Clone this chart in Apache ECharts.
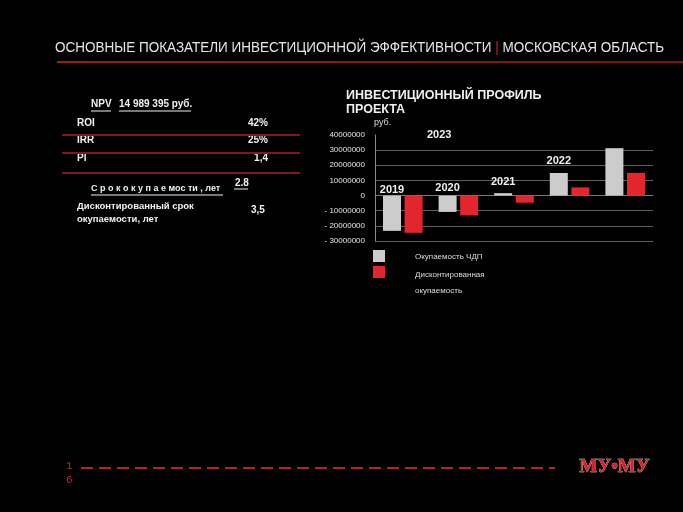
<!DOCTYPE html>
<html><head><meta charset="utf-8">
<script src="https://cdn.jsdelivr.net/npm/echarts@6/dist/echarts.min.js"></script>
<style>html,body{margin:0;padding:0;background:#000;}#c{width:683px;height:512px;}</style>
</head><body><div id="c"></div>
<script>
const categories = ['2019', '2020', '2021', '2022', '2023'];
const npvPayback = [-23300000, -10800000, 1600000, 14900000, 31300000];
const discPayback = [-24600000, -13100000, -4700000, 5400000, 14989395];
const yearLabelLevels = [3600000, 5000000, 9000000, 23000000];
const seriesNames = ['Окупаемость ЧДП', 'Дисконтированная окупаемость'];
const yTicks = { min: -30000000, max: 40000000, interval: 10000000 };

const tableRows = [
  ['ROI', '42%'],
  ['IRR', '25%'],
  ['PI', '1,4']
];

const W = '#f0f0f0';
const RED = '#e3262d';
const GRAY = '#cccccc';
const DARKRED = '#7e1a1a';
const font = 'Liberation Sans, Arial, sans-serif';

const chart = echarts.init(document.getElementById('c'), null, {renderer: 'canvas'});

const g = [];
// header
g.push({type: 'text', x: 55, y: 40, scaleX: 0.9, style: {
  text: 'ОСНОВНЫЕ ПОКАЗАТЕЛИ ИНВЕСТИЦИОННОЙ ЭФФЕКТИВНОСТИ {r|| }МОСКОВСКАЯ ОБЛАСТЬ',
  rich: {r: {fill: '#c0282d', fontSize: 15, fontFamily: font}},
  fill: '#e6e6e6', fontSize: 15, fontFamily: font}});
g.push({type: 'rect', shape: {x: 57, y: 61, width: 626, height: 2},
  style: {fill: new echarts.graphic.LinearGradient(0, 0, 1, 0, [{offset: 0, color: '#9a1c1c'}, {offset: 1, color: '#7a1414'}])}});

// table
g.push({type: 'text', left: 91, top: 99, style: {text: 'NPV', fill: W, fontSize: 10, fontWeight: 'bold', fontFamily: font}});
g.push({type: 'line', shape: {x1: 91, y1: 111, x2: 111, y2: 111}, style: {stroke: W, lineWidth: 1}});
g.push({type: 'text', left: 119, top: 99, style: {text: '14 989 395 руб.', fill: W, fontSize: 10, fontWeight: 'bold', fontFamily: font}});
g.push({type: 'line', shape: {x1: 119, y1: 111, x2: 191, y2: 111}, style: {stroke: W, lineWidth: 1}});

const rowY = [124, 141, 159];
tableRows.forEach((r, i) => {
  g.push({type: 'text', left: 77, top: rowY[i] - 6, style: {text: r[0], fill: W, fontSize: 10, fontWeight: 'bold', fontFamily: font}});
  g.push({type: 'text', right: 683 - 268, top: rowY[i] - 6, style: {text: r[1], fill: W, fontSize: 10, fontWeight: 'bold', fontFamily: font, align: 'right'}});
});
[135, 153, 173].forEach(y => {
  g.push({type: 'line', shape: {x1: 62, y1: y, x2: 300, y2: y}, style: {stroke: DARKRED, lineWidth: 2}});
});
g.push({type: 'text', left: 91, top: 184, style: {text: 'С р о к о к у п а е мос ти , лет', fill: W, fontSize: 9, fontWeight: 'bold', fontFamily: font}});
g.push({type: 'line', shape: {x1: 91, y1: 195, x2: 223, y2: 195}, style: {stroke: W, lineWidth: 1}});
g.push({type: 'text', left: 235, top: 178, style: {text: '2.8', fill: W, fontSize: 10, fontWeight: 'bold', fontFamily: font}});
g.push({type: 'line', shape: {x1: 234, y1: 189, x2: 248, y2: 189}, style: {stroke: W, lineWidth: 1}});
g.push({type: 'text', left: 77, top: 200, style: {text: 'Дисконтированный срок\nокупаемости, лет', fill: W, fontSize: 9.5, lineHeight: 13, fontWeight: 'bold', fontFamily: font}});
g.push({type: 'text', left: 251, top: 205, style: {text: '3,5', fill: W, fontSize: 10, fontWeight: 'bold', fontFamily: font}});

// chart title
g.push({type: 'text', left: 346, top: 89, style: {text: 'ИНВЕСТИЦИОННЫЙ ПРОФИЛЬ\nПРОЕКТА', fill: W, fontSize: 12.5, lineHeight: 14, fontWeight: 'bold', fontFamily: font}});
g.push({type: 'text', left: 374, top: 118, style: {text: 'руб.', fill: '#dddddd', fontSize: 9, fontFamily: font}});
g.push({type: 'text', left: 427, top: 129, style: {text: categories[4], fill: W, fontSize: 11, fontWeight: 'bold', fontFamily: font}});

// legend
g.push({type: 'rect', shape: {x: 373, y: 250, width: 12, height: 12}, style: {fill: GRAY}});
g.push({type: 'rect', shape: {x: 373, y: 266, width: 12, height: 12}, style: {fill: RED}});
g.push({type: 'text', left: 415, top: 253, style: {text: seriesNames[0], fill: '#dddddd', fontSize: 8, fontFamily: font}});
g.push({type: 'text', left: 415, top: 267, style: {text: 'Дисконтированная\nокупаемость', fill: '#dddddd', fontSize: 8, lineHeight: 16, fontFamily: font}});

// footer
g.push({type: 'text', left: 66, top: 461, style: {text: '1', fill: '#c0282d', fontSize: 11, fontFamily: 'Liberation Mono, monospace'}});
g.push({type: 'text', left: 66, top: 475, style: {text: '6', fill: '#c0282d', fontSize: 11, fontFamily: 'Liberation Mono, monospace'}});
g.push({type: 'line', shape: {x1: 81, y1: 468, x2: 555, y2: 468}, style: {stroke: '#b0232a', lineWidth: 2, lineDash: [12, 6]}});
g.push({type: 'text', left: 579, top: 457, style: {text: 'МУ•МУ', fill: '#d8232a', fontSize: 19, fontWeight: 'bold', fontFamily: 'Liberation Serif, serif', stroke: '#ffd0d0', lineWidth: 0.6}});

const markData = yearLabelLevels.map((v, i) => ({coord: [categories[i], v], value: categories[i]}));

chart.setOption({
  backgroundColor: '#000',
  animation: false,
  graphic: g,
  grid: {left: 375, right: 30, top: 135, bottom: 271, containLabel: false},
  xAxis: {
    type: 'category', data: categories,
    axisLine: {show: true, onZero: true, lineStyle: {color: '#777', width: 1}},
    axisTick: {show: false}, axisLabel: {show: false}
  },
  yAxis: {
    type: 'value', min: yTicks.min, max: yTicks.max, interval: yTicks.interval,
    axisLine: {show: true, lineStyle: {color: '#888', width: 1}},
    axisTick: {show: false},
    axisLabel: {color: '#e6e6e6', fontSize: 8, fontFamily: font, margin: 10,
      formatter: v => v < 0 ? '- ' + Math.abs(v) : String(v)},
    splitLine: {show: true, lineStyle: {color: ['#5e5e5e', '#5e5e5e', '#5e5e5e', '#777', '#5e5e5e', '#5e5e5e', '#5e5e5e', 'rgba(0,0,0,0)'], width: 1}}
  },
  series: [
    {name: seriesNames[0], type: 'bar', data: npvPayback, barWidth: 18, barGap: '20%',
      itemStyle: {color: GRAY},
      markPoint: {symbol: 'circle', symbolSize: 0, data: markData,
        label: {show: true, position: 'inside', color: W, fontSize: 11, fontWeight: 'bold', fontFamily: font, formatter: p => p.value}}},
    {name: seriesNames[1], type: 'bar', data: discPayback, barWidth: 18,
      itemStyle: {color: RED}}
  ]
});
</script></body></html>
